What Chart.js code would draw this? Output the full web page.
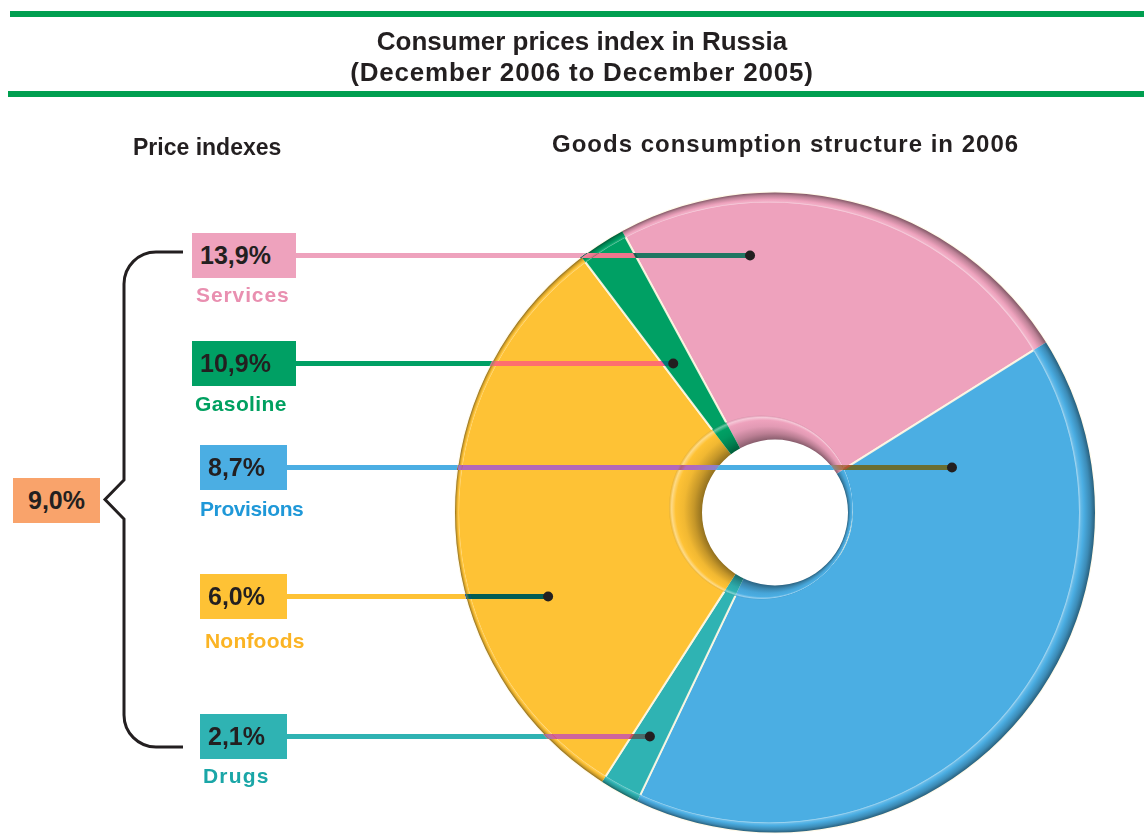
<!DOCTYPE html>
<html>
<head>
<meta charset="utf-8">
<script src="https://cdn.jsdelivr.net/npm/chart.js@4.4.1/dist/chart.umd.min.js"></script>
<style>
  body { margin: 0; background: #fff; }
  #page { position: relative; width: 1144px; height: 837px; overflow: hidden; font-family: "Liberation Sans", Arial, sans-serif; color: #231f20; }
  #holder { position: absolute; left: 0; top: 0; width: 1144px; height: 837px; }
  .rule { position: absolute; right: 0; height: 6px; background: #009f50; }
  .title { position: absolute; left: 0; width: 1164px; top: 26px; text-align: center; font-weight: bold; font-size: 26px; line-height: 31px; }
  .sub { position: absolute; font-weight: bold; line-height: 1; white-space: nowrap; }
  .box { position: absolute; height: 45px; display: flex; align-items: center; box-sizing: border-box; font-weight: bold; font-size: 25px; line-height: 1; }
  .name { position: absolute; font-weight: bold; font-size: 21px; line-height: 1; white-space: nowrap; }
</style>
</head>
<body>
<div id="page">
  <div id="holder"><canvas id="chart"></canvas></div>
  <div class="rule" style="top:11px;left:10px"></div>
  <div class="rule" style="top:91px;left:8px"></div>
  <div class="title">Consumer prices index in Russia<br><span style="letter-spacing:0.8px">(December 2006 to December 2005)</span></div>
  <div class="sub" style="left:133px;top:136px;font-size:23px">Price indexes</div>
  <div class="sub" style="left:552px;top:132px;font-size:24px;letter-spacing:1px">Goods consumption structure in 2006</div>
</div>
<script>
// consumption structure, clockwise from the top-left
const pieCategories = ['Services', 'Provisions', 'Drugs', 'Nonfoods', 'Gasoline'];
const consumptionShare = [24.0, 41.0, 2.0, 30.6, 2.4];
const pieColors = ['#eea2bd', '#4baee3', '#2fb3b3', '#fec235', '#00a064'];

// price indexes, top to bottom
const indexCategories = ['Services', 'Gasoline', 'Provisions', 'Nonfoods', 'Drugs'];
const priceIndexes = [13.9, 10.9, 8.7, 6.0, 2.1];
const nameColors = ['#e98fb0', '#00a060', '#1f98d8', '#fbb424', '#1aa6a7'];
const overallIndex = 9.0;

// label rows: box, caption and where the leader dot sits (in radii from the pie centre)
const rows = [
  { left: 192, top: 233, width: 104, nameX: 196, nameTop: 284, spacing: 0.9, dot: -0.078 },
  { left: 192, top: 341, width: 104, nameX: 195, nameTop: 393, spacing: 0.4, dot: -0.318 },
  { left: 200, top: 445, width: 87,  nameX: 200, nameTop: 498, spacing: -0.4, dot: 0.553 },
  { left: 200, top: 574, width: 87,  nameX: 205, nameTop: 630, spacing: 0.2, dot: -0.709 },
  { left: 200, top: 714, width: 87,  nameX: 203, nameTop: 765, spacing: 1.2, dot: -0.391 }
];

const HOLE = 73;
const fmt = v => v.toFixed(1).replace('.', ',') + '%';
const page = document.getElementById('page');

function colorOf(name) { return pieColors[pieCategories.indexOf(name)]; }

indexCategories.forEach((name, i) => {
  const r = rows[i];
  const box = document.createElement('div');
  box.className = 'box';
  box.style.cssText = `left:${r.left}px;top:${r.top}px;width:${r.width}px;padding-left:8px;background:${colorOf(name)}`;
  box.textContent = fmt(priceIndexes[i]);
  page.appendChild(box);
  const cap = document.createElement('div');
  cap.className = 'name';
  cap.style.cssText = `left:${r.nameX}px;top:${r.nameTop}px;letter-spacing:${r.spacing}px;color:${nameColors[i]}`;
  cap.textContent = name;
  page.appendChild(cap);
});

const total = document.createElement('div');
total.className = 'box';
total.style.cssText = 'left:13px;top:478px;width:87px;justify-content:center;background:#f9a36b';
total.textContent = fmt(overallIndex);
page.appendChild(total);

function mix(hex, amt) {
  const n = parseInt(hex.slice(1), 16);
  let c = [(n >> 16) & 255, (n >> 8) & 255, n & 255];
  const t = amt < 0 ? 0 : 255, a = Math.abs(amt);
  c = c.map(v => Math.round(v + (t - v) * a));
  return `rgb(${c[0]},${c[1]},${c[2]})`;
}

function circle(ctx, x, y, r) {
  ctx.moveTo(x + r, y);
  ctx.arc(x, y, r, 0, Math.PI * 2);
  ctx.closePath();
}

// raised ring round the hole and bevelled outer rim
const depth = {
  id: 'depth',
  afterDatasetsDraw(chart) {
    const ctx = chart.ctx;
    chart.getDatasetMeta(0).data.forEach((arc, i) => {
      const p = arc.getProps(['x', 'y', 'startAngle', 'endAngle', 'outerRadius'], true);
      const col = pieColors[i];
      ctx.save();
      ctx.beginPath();
      ctx.moveTo(p.x, p.y);
      ctx.arc(p.x, p.y, p.outerRadius + 3, p.startAngle, p.endAngle);
      ctx.closePath();
      ctx.clip();

      const tx = p.x - 14, ty = p.y - 5, tr = 92;
      let g = ctx.createRadialGradient(p.x, p.y, HOLE, tx, ty, tr);
      g.addColorStop(0, mix(col, -0.42));
      g.addColorStop(0.25, mix(col, -0.22));
      g.addColorStop(0.55, mix(col, -0.05));
      g.addColorStop(0.8, col);
      g.addColorStop(0.92, mix(col, 0.4));
      g.addColorStop(1, mix(col, -0.08));
      ctx.beginPath();
      circle(ctx, tx, ty, tr);
      circle(ctx, p.x, p.y, HOLE);
      ctx.fillStyle = g;
      ctx.fill('evenodd');

      const R = p.outerRadius, rx = p.x - 6, rr = R - 10;
      g = ctx.createRadialGradient(rx, p.y, rr, p.x, p.y, R);
      g.addColorStop(0, mix(col, 0.55));
      g.addColorStop(0.12, mix(col, 0.15));
      g.addColorStop(0.3, col);
      g.addColorStop(0.7, mix(col, -0.2));
      g.addColorStop(1, mix(col, -0.45));
      ctx.beginPath();
      circle(ctx, p.x, p.y, R);
      circle(ctx, rx, p.y, rr);
      ctx.fillStyle = g;
      ctx.fill('evenodd');
      ctx.restore();
    });
  }
};

// leader lines from the index boxes, the bracket round them
const leaders = {
  id: 'leaders',
  afterDraw(chart) {
    const ctx = chart.ctx;
    const arc = chart.getDatasetMeta(0).data[0];
    const { x, y, outerRadius: R } = arc.getProps(['x', 'y', 'outerRadius'], true);
    const W = chart.width, H = chart.height;

    indexCategories.forEach((name, i) => {
      const r = rows[i];
      const ly = r.top + 22.5;
      const x0 = r.left + r.width, x1 = x + r.dot * R;
      const line = () => {
        ctx.beginPath();
        ctx.moveTo(x0, ly);
        ctx.lineTo(x1, ly);
        ctx.lineWidth = 5;
        ctx.strokeStyle = colorOf(name);
        ctx.stroke();
      };
      // over the slices the line mixes with the colour below it
      ctx.save();
      ctx.beginPath();
      circle(ctx, x, y, R + 1);
      circle(ctx, x, y, HOLE);
      ctx.clip('evenodd');
      ctx.globalCompositeOperation = 'exclusion';
      line();
      ctx.restore();

      ctx.save();
      ctx.beginPath();
      ctx.rect(0, 0, W, H);
      circle(ctx, x, y, R + 1);
      circle(ctx, x, y, HOLE);
      ctx.clip('evenodd');
      line();
      ctx.restore();

      ctx.beginPath();
      ctx.arc(x1, ly, 5, 0, Math.PI * 2);
      ctx.fillStyle = '#231f20';
      ctx.fill();
    });

    const bx = 124, top = 252, bottom = 747, end = 183, rad = 32;
    ctx.beginPath();
    ctx.moveTo(end, top);
    ctx.arcTo(bx, top, bx, top + rad, rad);
    ctx.lineTo(bx, 480);
    ctx.lineTo(105, 499.5);
    ctx.lineTo(bx, 519);
    ctx.arcTo(bx, bottom, bx + rad, bottom, rad);
    ctx.lineTo(end, bottom);
    ctx.lineWidth = 3;
    ctx.strokeStyle = '#231f20';
    ctx.stroke();
  }
};

new Chart(document.getElementById('chart'), {
  type: 'doughnut',
  data: {
    labels: pieCategories,
    datasets: [{
      data: consumptionShare,
      backgroundColor: pieColors,
      borderColor: 'rgba(255,248,228,0.9)',
      borderWidth: 2
    }]
  },
  options: {
    responsive: true,
    maintainAspectRatio: false,
    animation: false,
    rotation: -28.5,
    cutout: '24%',
    layout: { padding: { left: 454, top: 190, right: 48, bottom: 2 } },
    plugins: { legend: { display: false }, tooltip: { enabled: false } }
  },
  plugins: [depth, leaders]
});
</script>
</body>
</html>
